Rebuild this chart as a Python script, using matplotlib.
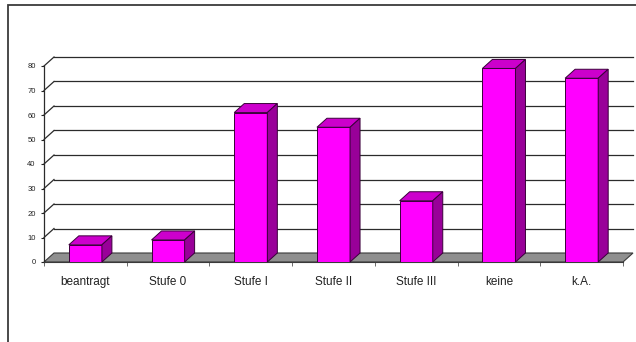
import matplotlib
matplotlib.use("Agg")
import matplotlib.pyplot as plt
from matplotlib.patches import Polygon, Rectangle

categories = ["beantragt", "Stufe 0", "Stufe I", "Stufe II", "Stufe III", "keine", "k.A."]
values = [7, 9, 61, 55, 25, 79, 75]
y_ticks = [0, 10, 20, 30, 40, 50, 60, 70, 80]

plt.rcParams["font.family"] = ["Liberation Sans", "DejaVu Sans"]

W, H = 636, 342
fig = plt.figure(figsize=(W / 100, H / 100), dpi=100)
fig.patch.set_facecolor("white")

# front plane of the plot area in pixels
x0, x1 = 44, 623
y0, y1 = 262, 66
ax = fig.add_axes([x0 / W, 1 - y0 / H, (x1 - x0) / W, (y0 - y1) / H])
ax.set_xlim(-0.5, len(categories) - 0.5)
ax.set_ylim(0, 80)
ax.set_facecolor("none")

# 3d depth offset converted to data units
px_x = (x1 - x0) / len(categories)
px_y = (y0 - y1) / 80
dx = 10 / px_x
dy = 9 / px_y

left, right = -0.5, len(categories) - 0.5

# floor
ax.add_patch(Polygon([(left, 0), (right, 0), (right + dx, dy), (left + dx, dy)],
                     closed=True, facecolor="#8f8f8f", edgecolor="#3a3a3a",
                     lw=0.8, zorder=1, clip_on=False))

# gridlines: short diagonal on the side wall, then across the back wall
for v in y_ticks[1:]:
    ax.plot([left, left + dx], [v, v + dy], color="#2b2b2b", lw=0.9,
            zorder=1, clip_on=False)
    ax.plot([left + dx, right + dx], [v + dy, v + dy], color="#2b2b2b",
            lw=0.9, zorder=1, clip_on=False)

# bars: front face, then top and side faces
bw = 0.4
xs = list(range(len(categories)))
ax.bar(xs, values, width=bw, color="#ff00ff", edgecolor="#3a003a",
       lw=0.7, zorder=3)
for x, v in zip(xs, values):
    l, r = x - bw / 2, x + bw / 2
    ax.add_patch(Polygon([(l, v), (r, v), (r + dx, v + dy), (l + dx, v + dy)],
                         closed=True, facecolor="#cc00cc", edgecolor="#3a003a",
                         lw=0.7, zorder=3, clip_on=False))
    ax.add_patch(Polygon([(r, 0), (r + dx, dy), (r + dx, v + dy), (r, v)],
                         closed=True, facecolor="#990099", edgecolor="#3a003a",
                         lw=0.7, zorder=3, clip_on=False))

for s in ["top", "right"]:
    ax.spines[s].set_visible(False)
ax.spines["left"].set_color("#2b2b2b")
ax.spines["bottom"].set_color("#3a3a3a")
ax.spines["left"].set_linewidth(0.9)
ax.spines["bottom"].set_linewidth(0.8)

ax.set_yticks(y_ticks)
ax.tick_params(axis="y", length=2, width=0.8, pad=4, labelsize=5.5,
               colors="#222222")
ax.set_xticks(xs)
ax.set_xticklabels(categories)
ax.set_xticks([i - 0.5 for i in range(len(categories) + 1)], minor=True)
ax.tick_params(axis="x", which="major", length=0, pad=10, labelsize=8.5,
               labelcolor="#222222")
ax.tick_params(axis="x", which="minor", length=3, width=0.6, color="#555555")

# chart frame (left and top edges)
fig.add_artist(Rectangle((8 / W, -0.05), 1.2, 1 - 5 / H + 0.05,
                         transform=fig.transFigure, fill=False,
                         edgecolor="#3a3a3a", lw=1.3))

fig.savefig("out.png", dpi=100)
